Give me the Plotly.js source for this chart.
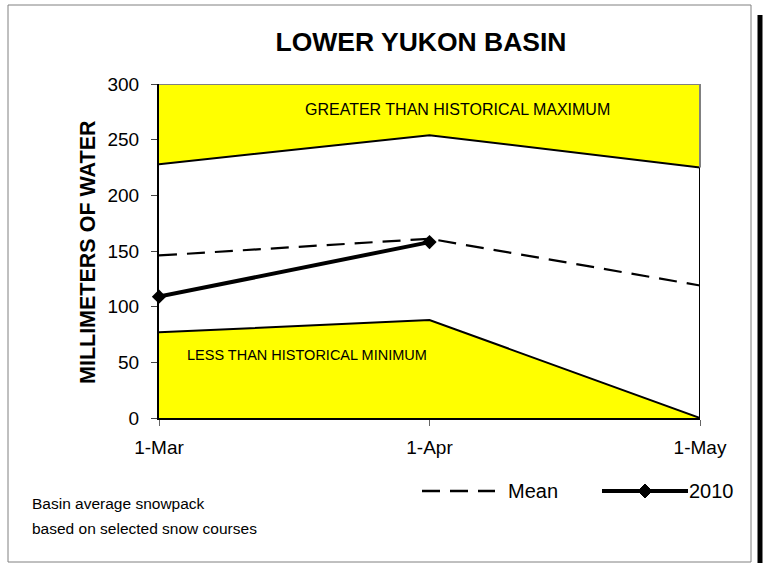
<!DOCTYPE html>
<html><head><meta charset="utf-8">
<script src="https://cdn.plot.ly/plotly-3.0.1.min.js"></script>
<style>html,body{margin:0;padding:0;background:#fff}</style>
</head><body><div id="chart" style="width:765px;height:563px"></div>
<script>
// ---- data ----
const dates = ['1-Mar', '1-Apr', '1-May'];
const histMax = [228, 254, 225];
const histMin = [77, 88, 0];
const meanVals = [146, 161, 119];
const dates2010 = ['1-Mar', '1-Apr'];
const vals2010 = [109, 158];
const yTicks = [0, 50, 100, 150, 200, 250, 300];
const yMaxAxis = 300;

// ---- layout helpers (pixel -> paper) ----
const L = 159, R = 700, T = 84, B = 418;
const px = x => (x - L) / (R - L);
const py = y => (B - y) / (B - T);
const FONT = 'Liberation Sans, Arial, sans-serif';
const YEL = '#FFFF00';

const traces = [
  { x: dates, y: dates.map(() => yMaxAxis), mode: 'lines', line: { color: '#808080', width: 2 }, hoverinfo: 'skip', showlegend: false },
  { x: dates, y: histMax, mode: 'lines', fill: 'tonexty', fillcolor: YEL, line: { color: '#000', width: 2 }, hoverinfo: 'skip', showlegend: false },
  { x: dates, y: histMin, mode: 'lines', fill: 'tozeroy', fillcolor: YEL, line: { color: '#000', width: 2 }, hoverinfo: 'skip', showlegend: false },
  { x: [dates[2], dates[2]], y: [0, histMax[2]], mode: 'lines', line: { color: '#000', width: 2 }, hoverinfo: 'skip', showlegend: false },
  { x: dates, y: meanVals, mode: 'lines', name: 'Mean', line: { color: '#000', width: 2.2, dash: '18px,10px' }, showlegend: false },
  { x: dates2010, y: vals2010, mode: 'lines+markers', name: '2010', cliponaxis: false, line: { color: '#000', width: 4 }, marker: { symbol: 'diamond', size: 11, color: '#000' }, showlegend: false }
];

// diamond path for legend
function diamond(cx, cy, r) {
  return `M ${px(cx - r)} ${py(cy)} L ${px(cx)} ${py(cy - r)} L ${px(cx + r)} ${py(cy)} L ${px(cx)} ${py(cy + r)} Z`;
}

const shapes = [
  // outer figure border
  { type: 'rect', xref: 'paper', yref: 'paper', x0: px(8), x1: px(751), y0: py(5), y1: py(562), line: { color: '#808080', width: 1 }, layer: 'below' },
  // right shadow
  { type: 'line', xref: 'paper', yref: 'paper', x0: px(760), x1: px(760), y0: py(15), y1: py(565), line: { color: '#000', width: 5 } },
  // right gray plot border above historical max
  { type: 'line', xref: 'paper', yref: 'y', x0: 1, x1: 1, y0: histMax[2], y1: yMaxAxis, line: { color: '#808080', width: 2 } },
  // legend: mean dashed sample
  { type: 'line', xref: 'paper', yref: 'paper', x0: px(422), x1: px(495), y0: py(491), y1: py(491), line: { color: '#000', width: 2.5, dash: '18px,10px' } },
  // legend: 2010 sample
  { type: 'line', xref: 'paper', yref: 'paper', x0: px(602), x1: px(688), y0: py(491), y1: py(491), line: { color: '#000', width: 4 } },
  { type: 'path', xref: 'paper', yref: 'paper', path: diamond(645, 491, 7), fillcolor: '#000', line: { color: '#000', width: 1 } }
];

const annotations = [
  { text: 'MILLIMETERS OF WATER', xref: 'paper', yref: 'paper', x: px(88), y: py(252), textangle: -90, showarrow: false, font: { family: FONT, size: 21.5, color: '#000', weight: 'bold' }, xanchor: 'center', yanchor: 'middle' },
  { text: 'GREATER THAN HISTORICAL MAXIMUM', xref: 'paper', yref: 'paper', x: px(457), y: py(109), showarrow: false, font: { family: FONT, size: 16, color: '#000' }, xanchor: 'center', yanchor: 'middle' },
  { text: 'LESS THAN HISTORICAL MINIMUM', xref: 'paper', yref: 'paper', x: px(307), y: py(355), showarrow: false, font: { family: FONT, size: 14.5, color: '#000' }, xanchor: 'center', yanchor: 'middle' },
  { text: 'Mean', xref: 'paper', yref: 'paper', x: px(506), y: py(491), showarrow: false, font: { family: FONT, size: 20, color: '#000' }, xanchor: 'left', yanchor: 'middle' },
  { text: '2010', xref: 'paper', yref: 'paper', x: px(687), y: py(491), showarrow: false, font: { family: FONT, size: 20, color: '#000' }, xanchor: 'left', yanchor: 'middle' },
  { text: 'Basin average snowpack', xref: 'paper', yref: 'paper', x: px(30), y: py(503), showarrow: false, font: { family: FONT, size: 15.5, color: '#000' }, xanchor: 'left', yanchor: 'middle' },
  { text: 'based on selected snow courses', xref: 'paper', yref: 'paper', x: px(30), y: py(528), showarrow: false, font: { family: FONT, size: 15.5, color: '#000' }, xanchor: 'left', yanchor: 'middle' }
];

const layout = {
  width: 765, height: 563,
  margin: { l: L, r: 765 - R, t: T, b: 563 - B, pad: 0 },
  paper_bgcolor: '#fff', plot_bgcolor: '#fff',
  showlegend: false,
  title: { text: 'LOWER YUKON BASIN', font: { family: FONT, size: 26.5, color: '#000', weight: 'bold' }, xref: 'container', yref: 'container', x: 421 / 765, y: 1 - 42 / 563, xanchor: 'center', yanchor: 'middle' },
  xaxis: {
    type: 'category', categoryarray: dates, range: [0, 2], showgrid: false, zeroline: false,
    showline: true, linecolor: '#000', linewidth: 2, ticks: 'outside', ticklen: 6, tickcolor: '#666', tickwidth: 1,
    tickfont: { family: FONT, size: 19, color: '#000' }, ticklabelstandoff: 5, fixedrange: true
  },
  yaxis: {
    range: [0, yMaxAxis], tickvals: yTicks, showgrid: false, zeroline: false,
    showline: true, linecolor: '#000', linewidth: 2, ticks: 'outside', ticklen: 6, tickcolor: '#444', tickwidth: 1,
    tickfont: { family: FONT, size: 19, color: '#000' }, ticklabelstandoff: 8, fixedrange: true
  },
  shapes, annotations
};

Plotly.newPlot('chart', traces, layout, { displayModeBar: false, staticPlot: true });
</script></body></html>
